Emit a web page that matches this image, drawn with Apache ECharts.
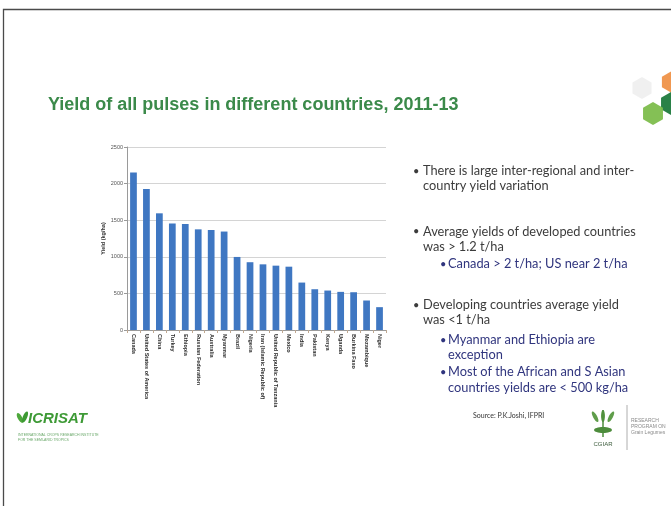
<!DOCTYPE html>
<html>
<head>
<meta charset="utf-8">
<script src="https://cdn.jsdelivr.net/npm/echarts@6/dist/echarts.min.js"></script>
<style>
  html, body { margin: 0; padding: 0; background: #ffffff; }
  #slide { width: 671px; height: 506px; }
</style>
</head>
<body>
<div id="slide"></div>
<script>
// Average yield of all pulses by country, 2011-13 (kg/ha)
const countries = [
  'Canada', 'United States of America', 'China', 'Turkey', 'Ethiopia',
  'Russian Federation', 'Australia', 'Myanmar', 'Brazil', 'Nigeria',
  'Iran (Islamic Republic of)', 'United Republic of Tanzania', 'Mexico', 'India',
  'Pakistan', 'Kenya', 'Uganda', 'Burkina Faso', 'Mozambique', 'Niger'
];
const yieldKgHa = [
  2150, 1925, 1594, 1455, 1448, 1375, 1366, 1345, 998, 926,
  897, 879, 865, 648, 557, 539, 521, 516, 403, 312
];
const yAxisMax = 2500;
const yAxisStep = 500;

const titleText = 'Yield of all pulses in different countries, 2011-13';
const notes = [
  { level: 1, text: 'There is large inter-regional and inter-' },
  { level: 0, text: 'country yield variation' },
  { level: 1, text: 'Average yields of developed countries' },
  { level: 0, text: 'was > 1.2 t/ha' },
  { level: 2, text: 'Canada > 2 t/ha; US near 2 t/ha' },
  { level: 1, text: 'Developing countries average yield' },
  { level: 0, text: 'was <1 t/ha' },
  { level: 2, text: 'Myanmar and Ethiopia are' },
  { level: -2, text: 'exception' },
  { level: 2, text: 'Most of the African and S Asian' },
  { level: -2, text: 'countries yields are < 500 kg/ha' }
];
const sourceText = 'Source: P.K.Joshi, IFPRI';

// ---- layout of the text column (slide styling) ----
const noteLineY = [171, 185.5, 231.5, 246.5, 264, 305, 320, 340, 355, 372, 387.5];
const noteFont = 'Lato, "Open Sans", sans-serif';

const graphics = [];

// slide frame
graphics.push({
  type: 'polyline', silent: true,
  shape: { points: [[3.5, 506], [3.5, 9.5], [671, 9.5]] },
  style: { stroke: '#4a4a4a', lineWidth: 1.3, fill: null }
});

// bullet text column
notes.forEach((n, i) => {
  const y = noteLineY[i];
  const sub = Math.abs(n.level) === 2;
  const color = sub ? '#30357e' : '#3c3c3c';
  const textX = sub ? 448 : 423;
  if (n.level > 0) {
    graphics.push({
      type: 'text', silent: true,
      style: { text: '\u2022', x: sub ? 440 : 413, y: y, fill: color,
               font: '11px ' + noteFont, verticalAlign: 'middle' }
    });
  }
  graphics.push({
    type: 'text', silent: true,
    style: { text: n.text, x: textX, y: y, fill: color,
             font: '12.8px ' + noteFont, verticalAlign: 'middle' }
  });
});

// source line
graphics.push({
  type: 'text', silent: true,
  style: { text: sourceText, x: 473, y: 416, fill: '#333333',
           font: '7px ' + noteFont, verticalAlign: 'middle' }
});

// hexagon cluster, upper right corner
function hexagon(cx, cy, r) {
  const pts = [];
  for (let k = 0; k < 6; k++) {
    const a = Math.PI / 180 * (60 * k - 90);
    pts.push([cx + r * Math.cos(a), cy + r * Math.sin(a)]);
  }
  return pts;
}
[
  { c: [642, 88], r: 11, fill: '#efefef' },
  { c: [671, 82], r: 10.5, fill: '#ef9248' },
  { c: [671, 103.5], r: 11.5, fill: '#1f7a3d' },
  { c: [653, 113.5], r: 11.5, fill: '#7dbd4c' }
].forEach(h => graphics.push({
  type: 'polygon', silent: true,
  shape: { points: hexagon(h.c[0], h.c[1], h.r) },
  style: { fill: h.fill, opacity: 0.95 }
}));

// ICRISAT mark, lower left
graphics.push(
  { type: 'ellipse', silent: true, shape: { cx: 20, cy: 418, rx: 2.2, ry: 5.5 },
    rotation: 0.5, originX: 20, originY: 418, style: { fill: '#4ea83c' } },
  { type: 'ellipse', silent: true, shape: { cx: 25, cy: 417, rx: 2.2, ry: 6 },
    rotation: -0.4, originX: 25, originY: 417, style: { fill: '#3d9a33' } },
  { type: 'text', silent: true,
    style: { text: 'ICRISAT', x: 28, y: 419, fill: '#3e9a36',
             font: 'italic bold 15px "Liberation Sans", sans-serif', verticalAlign: 'middle' } },
  { type: 'text', silent: true,
    style: { text: 'INTERNATIONAL CROPS RESEARCH INSTITUTE\nFOR THE SEMI-ARID TROPICS', x: 18, y: 433,
             fill: '#6aa86a', font: '3.5px "Liberation Sans", sans-serif', lineHeight: 5 } }
);

// CGIAR mark, lower right
const wheat = [];
[[-5, 0.5], [0, 0], [5, -0.5]].forEach(([dx, rot]) => {
  wheat.push({ type: 'ellipse', silent: true, shape: { cx: 603 + dx, cy: 416, rx: 2, ry: 6 },
               rotation: rot, originX: 603 + dx, originY: 422,
               style: { fill: '#5f9d4a' } });
});
graphics.push(...wheat,
  { type: 'ellipse', silent: true, shape: { cx: 603, cy: 430, rx: 9, ry: 3 },
    style: { fill: '#4d8c3c' } },
  { type: 'line', silent: true, shape: { x1: 603, y1: 410, x2: 603, y2: 437 },
    style: { stroke: '#4d8c3c', lineWidth: 1.5 } },
  { type: 'text', silent: true,
    style: { text: 'CGIAR', x: 603, y: 444, fill: '#3a5a3a', align: 'center',
             font: '6px "Liberation Sans", sans-serif', verticalAlign: 'middle' } },
  { type: 'line', silent: true, shape: { x1: 627, y1: 405, x2: 627, y2: 450 },
    style: { stroke: '#9a9a9a', lineWidth: 0.8 } },
  { type: 'text', silent: true,
    style: { text: 'RESEARCH\nPROGRAM ON\nGrain Legumes', x: 631, y: 418, fill: '#8a8a8a',
             font: '5px "Liberation Sans", sans-serif', lineHeight: 6 } }
);

const chart = echarts.init(document.getElementById('slide'), null, { renderer: 'canvas' });
chart.setOption({
  backgroundColor: '#ffffff',
  animation: false,
  title: {
    text: titleText,
    left: 43, top: 91,
    textStyle: {
      fontFamily: '"Liberation Sans", Arial, sans-serif',
      fontSize: 18, fontWeight: 'bold', color: '#3b8a4a'
    }
  },
  grid: { left: 127, right: 285, top: 147, bottom: 176, containLabel: false },
  xAxis: {
    type: 'category',
    data: countries,
    axisLine: { lineStyle: { color: '#9a9a9a', width: 1 } },
    axisTick: { show: true, length: 3, lineStyle: { color: '#c0a890' } },
    axisLabel: {
      interval: 0, rotate: -90, margin: 4,
      fontFamily: '"Liberation Sans", Arial, sans-serif',
      fontSize: 5.5, fontWeight: 'bold', color: '#2a2a2a'
    }
  },
  yAxis: {
    type: 'value',
    min: 0, max: yAxisMax, interval: yAxisStep,
    name: 'Yield (kg/ha)',
    nameLocation: 'middle', nameGap: 21, nameRotate: 90,
    nameTextStyle: {
      fontFamily: '"Liberation Sans", Arial, sans-serif',
      fontSize: 5.5, fontWeight: 'bold', color: '#333333'
    },
    axisLine: { show: true, lineStyle: { color: '#9a9a9a', width: 1 } },
    axisTick: { show: true, length: 3, lineStyle: { color: '#9a9a9a' } },
    axisLabel: {
      margin: 4,
      formatter: v => String(v),
      fontFamily: '"Liberation Sans", Arial, sans-serif',
      fontSize: 5.5, color: '#555555'
    },
    splitLine: { lineStyle: { color: '#d4d4d4', width: 1 } }
  },
  series: [{
    type: 'bar',
    data: yieldKgHa,
    barWidth: '52%',
    itemStyle: { color: '#3f77c2' }
  }],
  graphic: graphics
});
</script>
</body>
</html>
